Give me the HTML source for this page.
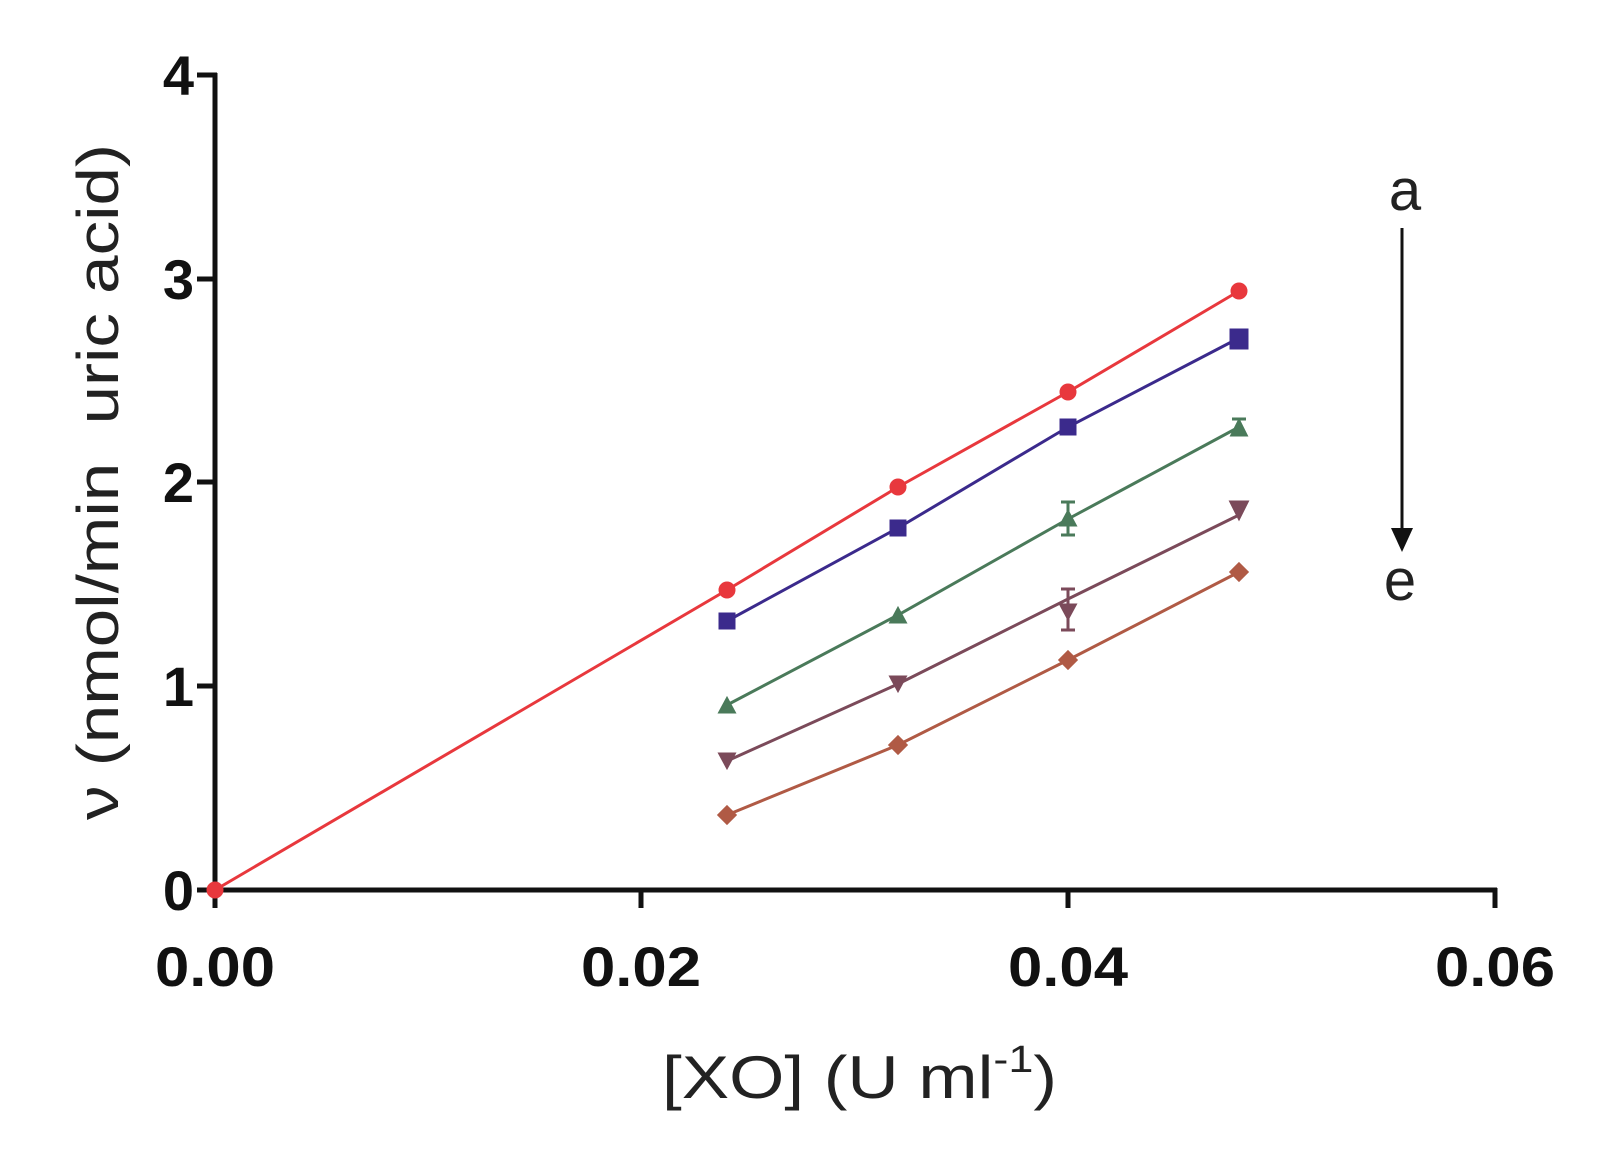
<!DOCTYPE html>
<html><head><meta charset="utf-8"><style>body{margin:0;background:#fff}</style></head><body>
<svg width="1597" height="1150" viewBox="0 0 1597 1150" xmlns="http://www.w3.org/2000/svg" font-family="Liberation Sans, sans-serif">
<g stroke="#111" stroke-width="5" fill="none">
<line x1="215" y1="73" x2="215" y2="908"/>
<line x1="197" y1="890" x2="1497" y2="890"/>
<line x1="1495" y1="888" x2="1495" y2="908"/>
<line x1="641" y1="888" x2="641" y2="908"/>
<line x1="1068" y1="888" x2="1068" y2="908"/>
<line x1="197" y1="75" x2="217" y2="75"/>
<line x1="197" y1="279" x2="215" y2="279"/>
<line x1="197" y1="482" x2="215" y2="482"/>
<line x1="197" y1="686" x2="215" y2="686"/>
</g>
<g font-size="56" font-weight="bold" fill="#111" text-anchor="end">
<text x="194" y="95">4</text><text x="194" y="299">3</text><text x="194" y="502">2</text><text x="194" y="706">1</text><text x="194" y="910">0</text>
</g>
<g font-size="56" font-weight="bold" fill="#111" text-anchor="middle">
<text x="215" y="986" textLength="120" lengthAdjust="spacingAndGlyphs">0.00</text><text x="641" y="986" textLength="120" lengthAdjust="spacingAndGlyphs">0.02</text><text x="1068" y="986" textLength="120" lengthAdjust="spacingAndGlyphs">0.04</text><text x="1495" y="986" textLength="120" lengthAdjust="spacingAndGlyphs">0.06</text>
</g>
<text x="662" y="1098" font-size="60" fill="#222" textLength="395" lengthAdjust="spacingAndGlyphs">[XO] (U ml<tspan dy="-26" font-size="38">-1</tspan><tspan dy="26">)</tspan></text>
<text transform="translate(118,482) rotate(-90)" font-size="58" text-anchor="middle" fill="#222" textLength="676" lengthAdjust="spacingAndGlyphs" xml:space="preserve">ν (nmol/min  uric acid)</text>
<text x="1405" y="210" font-size="58" text-anchor="middle" fill="#222">a</text>
<text x="1400" y="600" font-size="58" text-anchor="middle" fill="#222">e</text>
<line x1="1402" y1="228" x2="1402" y2="530" stroke="#111" stroke-width="3"/>
<polygon points="1391,528 1413,528 1402,552" fill="#111"/>
<g stroke="#e8383d" stroke-width="3" fill="#e8383d">
<polyline fill="none" points="215,890 727,590 898,487 1068,392 1239,291"/>
<circle cx="215" cy="890" r="7"/><circle cx="727" cy="590" r="7"/><circle cx="898" cy="487" r="7"/><circle cx="1068" cy="392" r="7"/><circle cx="1239" cy="291" r="7"/>
</g>
<g stroke="#3b2a8c" stroke-width="3" fill="#3b2a8c">
<polyline fill="none" points="727,621 898,528 1068,427 1239,338"/>
<rect x="720" y="614" width="14" height="14"/><rect x="891" y="521" width="14" height="14"/><rect x="1061" y="420" width="14" height="14"/><rect x="1231" y="330" width="16" height="18"/>
</g>
<g stroke="#4a7a5a" stroke-width="3" fill="#4a7a5a">
<polyline fill="none" points="727,705 898,615 1068,519 1239,427"/>
<line x1="1068" y1="502" x2="1068" y2="535"/><line x1="1061" y1="502" x2="1075" y2="502"/><line x1="1061" y1="535" x2="1075" y2="535"/>
<line x1="1239" y1="419" x2="1239" y2="436"/><line x1="1232" y1="419" x2="1246" y2="419"/>
<polygon points="720,712 734,712 727,699"/><polygon points="891,622 905,622 898,609"/><polygon points="1061,525 1075,525 1068,512"/><polygon points="1232,435 1246,435 1239,421"/>
</g>
<g stroke="#7b4a5a" stroke-width="3" fill="#7b4a5a">
<polyline fill="none" points="727,761 898,684 1068,599 1239,515"/>
<line x1="1068" y1="589" x2="1068" y2="630"/><line x1="1061" y1="589" x2="1075" y2="589"/><line x1="1061" y1="630" x2="1075" y2="630"/>
<polygon points="720,754 734,754 727,767"/><polygon points="891,677 905,677 898,690"/><polygon points="1061,605 1075,605 1068,618"/><polygon points="1231,502 1247,502 1239,518"/>
</g>
<g stroke="#b05a45" stroke-width="3" fill="#b05a45">
<polyline fill="none" points="727,815 898,745 1068,660 1239,572"/>
<polygon points="727,807 735,815 727,823 719,815"/><polygon points="898,737 906,745 898,753 890,745"/><polygon points="1068,652 1076,660 1068,668 1060,660"/><polygon points="1239,564 1247,572 1239,580 1231,572"/>
</g>
</svg>
</body></html>
